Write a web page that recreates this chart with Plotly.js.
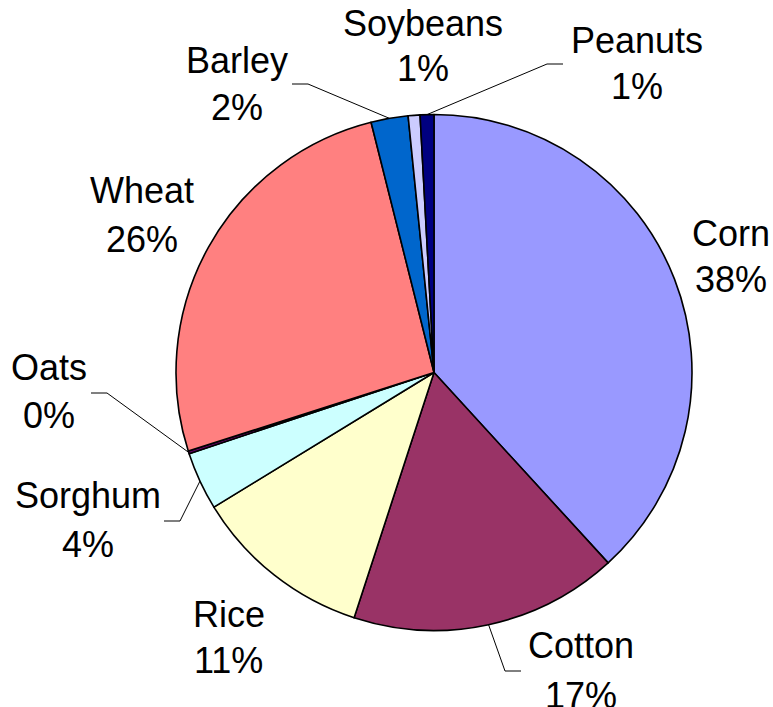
<!DOCTYPE html>
<html>
<head>
<meta charset="utf-8">
<script src="https://cdn.plot.ly/plotly-3.0.1.min.js"></script>
<style>
  html, body { margin: 0; padding: 0; background: #ffffff; }
  #chart { width: 773px; height: 707px; }
</style>
</head>
<body>
<div id="chart"></div>
<script>
// Crop shares (percent of total), clockwise from 12 o'clock
const crops = ['Corn', 'Cotton', 'Rice', 'Sorghum', 'Oats', 'Wheat', 'Barley', 'Soybeans', 'Peanuts'];
const shares = [38.2, 16.8, 11.25, 3.64, 0.17, 26.0, 2.32, 0.74, 0.86];
const sliceColors = ['#9999FF', '#993366', '#FFFFCC', '#CCFFFF', '#660066', '#FF8080', '#0066CC', '#CCCCFF', '#000080'];

// Page geometry (pixels)
const W = 773, H = 707;
const CX = 434, CY = 372.5, R = 258;

// Label placement (pixels): horizontal centre, crop-name line, percent line
const labelX = [730.5, 581, 228.5, 88, 48.5, 141.5, 236.5, 423, 637];
const nameY  = [233.3, 645, 614, 495.5, 367.5, 190.5, 60, 23.5, 40.7];
const pctY   = [279.2, 695.5, 660.5, 544.5, 415.5, 239, 107.5, 68.5, 86.7];

// Leader lines: crop index, tail end next to the label, knee of the bend
const leaders = [
  { i: 1, tail: [521, 671], knee: [505, 671] },
  { i: 3, tail: [164, 521], knee: [180, 521] },
  { i: 4, tail: [91, 393],  knee: [107, 393] },
  { i: 6, tail: [292, 84],  knee: [308, 84] },
  { i: 8, tail: [563, 64],  knee: [547, 64] }
];

const total = shares.reduce((a, b) => a + b, 0);
const px = x => x / W;
const py = y => 1 - y / H;

// Point on the rim at the middle of slice i (clockwise from top)
function rimPoint(i) {
  let before = 0;
  for (let k = 0; k < i; k++) before += shares[k];
  const mid = (before + shares[i] / 2) / total * 2 * Math.PI;
  return [CX + R * Math.sin(mid), CY - R * Math.cos(mid)];
}

const labelFont = { family: 'Liberation Sans, Arial, sans-serif', size: 36, color: '#000000' };
const annotations = [];
crops.forEach((c, i) => {
  const pct = Math.round(shares[i] / total * 100) + '%';
  [[c, nameY[i]], [pct, pctY[i]]].forEach(([txt, y]) => {
    annotations.push({
      text: txt,
      x: px(labelX[i]), y: py(y),
      xref: 'paper', yref: 'paper',
      xanchor: 'center', yanchor: 'middle',
      showarrow: false,
      font: labelFont
    });
  });
});

const shapes = leaders.map(l => {
  const e = rimPoint(l.i);
  return {
    type: 'path', xref: 'paper', yref: 'paper',
    path: 'M ' + px(l.tail[0]) + ',' + py(l.tail[1]) +
          ' L ' + px(l.knee[0]) + ',' + py(l.knee[1]) +
          ' L ' + px(e[0]) + ',' + py(e[1]),
    line: { color: '#000000', width: 1 }
  };
});

const trace = {
  type: 'pie',
  labels: crops,
  values: shares,
  sort: false,
  direction: 'clockwise',
  rotation: 0,
  textinfo: 'none',
  hoverinfo: 'skip',
  marker: { colors: sliceColors, line: { color: '#000000', width: 1.6 } },
  domain: { x: [px(CX - R), px(CX + R)], y: [py(CY + R), py(CY - R)] }
};

Plotly.newPlot('chart', [trace], {
  width: W, height: H,
  margin: { l: 0, r: 0, t: 0, b: 0 },
  paper_bgcolor: '#ffffff',
  showlegend: false,
  annotations: annotations,
  shapes: shapes
}, { displayModeBar: false, staticPlot: true });
</script>
</body>
</html>
